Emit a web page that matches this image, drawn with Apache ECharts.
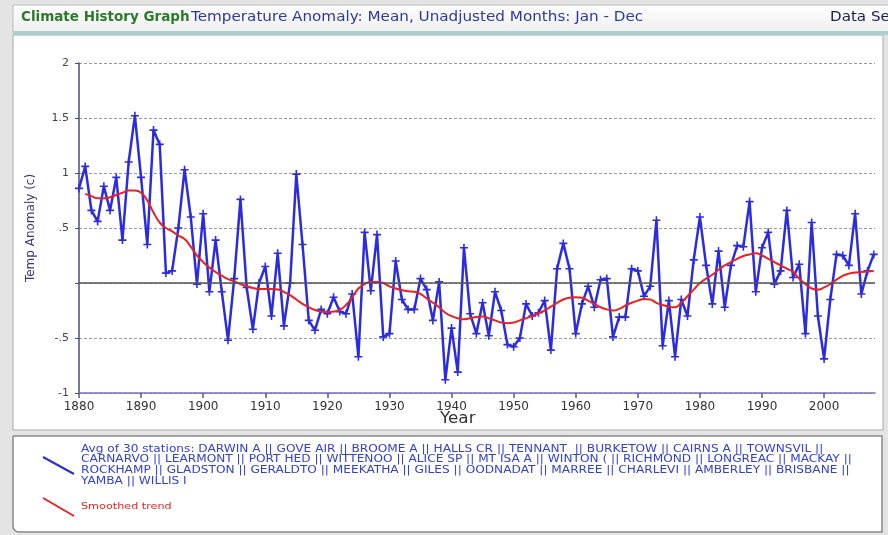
<!DOCTYPE html>
<html>
<head>
<meta charset="utf-8">
<script src="https://cdn.jsdelivr.net/npm/echarts@6/dist/echarts.min.js"></script>
<style>
html,body{margin:0;padding:0;background:#e4e4e4;}
#chart{width:888px;height:535px;}
</style>
</head>
<body>
<div id="chart"></div>
<script>
// ---- data ----
const years = [];
for (let y = 1880; y <= 2008; y++) years.push(y);

const anomaly = [
  0.86, 1.06, 0.66, 0.56, 0.88, 0.66, 0.96, 0.39, 1.10, 1.52,   // 1880-1889
  0.96, 0.35, 1.39, 1.26, 0.09, 0.11, 0.50, 1.03, 0.60, -0.01,  // 1890-1899
  0.63, -0.08, 0.39, -0.08, -0.52, 0.04, 0.76, -0.04, -0.42, 0.00, // 1900-1909
  0.15, -0.30, 0.27, -0.39, 0.00, 0.99, 0.35, -0.34, -0.43, -0.24, // 1910-1919
  -0.28, -0.13, -0.26, -0.28, -0.10, -0.67, 0.46, -0.07, 0.44, -0.49, // 1920-1929
  -0.46, 0.20, -0.15, -0.24, -0.24, 0.04, -0.06, -0.34, 0.01, -0.88, // 1930-1939
  -0.41, -0.81, 0.32, -0.28, -0.46, -0.18, -0.48, -0.08, -0.25, -0.56, // 1940-1949
  -0.58, -0.50, -0.19, -0.30, -0.27, -0.16, -0.61, 0.13, 0.36, 0.13, // 1950-1959
  -0.46, -0.19, -0.03, -0.22, 0.03, 0.04, -0.49, -0.31, -0.31, 0.13, // 1960-1969
  0.11, -0.12, -0.03, 0.57, -0.57, -0.16, -0.67, -0.15, -0.30, 0.21, // 1970-1979
  0.60, 0.16, -0.19, 0.29, -0.22, 0.16, 0.34, 0.33, 0.74, -0.08,   // 1980-1989
  0.32, 0.46, -0.01, 0.11, 0.66, 0.05, 0.17, -0.46, 0.55, -0.30,   // 1990-1999
  -0.69, -0.15, 0.26, 0.25, 0.16, 0.63, -0.10, 0.11, 0.26          // 2000-2008
];

const trendYears = [];
for (let y = 1881; y <= 2008; y++) trendYears.push(y);
const trend = [
  0.81, 0.79, 0.77, 0.77, 0.78, 0.80, 0.82, 0.84, 0.84,           // 1881-1889
  0.82, 0.75, 0.64, 0.55, 0.50, 0.47, 0.43, 0.40, 0.33, 0.25,     // 1890-1899
  0.19, 0.14, 0.10, 0.066, 0.035, 0.015, -0.01, -0.03, -0.045, -0.055, // 1900-1909
  -0.055, -0.055, -0.06, -0.08, -0.11, -0.15, -0.19, -0.22, -0.245, -0.26, // 1910-1919
  -0.265, -0.26, -0.245, -0.20, -0.13, -0.05, -0.01, 0.01, 0.01, 0.00, // 1920-1929
  -0.03, -0.05, -0.065, -0.075, -0.08, -0.10, -0.14, -0.18, -0.22, -0.27, // 1930-1939
  -0.30, -0.32, -0.33, -0.32, -0.31, -0.305, -0.32, -0.34, -0.36, -0.365, // 1940-1949
  -0.36, -0.34, -0.32, -0.30, -0.275, -0.25, -0.215, -0.18, -0.15, -0.135, // 1950-1959
  -0.13, -0.135, -0.16, -0.19, -0.22, -0.24, -0.25, -0.235, -0.205, -0.18, // 1960-1969
  -0.16, -0.145, -0.15, -0.18, -0.20, -0.215, -0.22, -0.18, -0.12, -0.06, // 1970-1979
  0.00, 0.04, 0.075, 0.12, 0.16, 0.19, 0.22, 0.245, 0.26, 0.27,   // 1980-1989
  0.25, 0.22, 0.19, 0.16, 0.13, 0.10, 0.04, -0.01, -0.05, -0.06,  // 1990-1999
  -0.04, -0.01, 0.03, 0.065, 0.085, 0.095, 0.10, 0.105, 0.11      // 2000-2008
];

const xTicks = [1880, 1890, 1900, 1910, 1920, 1930, 1940, 1950, 1960, 1970, 1980, 1990, 2000];

const legendLines = [
  'Avg of 30 stations: DARWIN A || GOVE AIR || BROOME A || HALLS CR || TENNANT  || BURKETOW || CAIRNS A || TOWNSVIL ||',
  'CARNARVO || LEARMONT || PORT HED || WITTENOO || ALICE SP || MT ISA A || WINTON ( || RICHMOND || LONGREAC || MACKAY ||',
  'ROCKHAMP || GLADSTON || GERALDTO || MEEKATHA || GILES || OODNADAT || MARREE || CHARLEVI || AMBERLEY || BRISBANE ||',
  'YAMBA || WILLIS I'
];

// ---- chart ----
const FONT = 'DejaVu Sans, Verdana, sans-serif';
const BLUE = '#2b2be0';
const RED = '#e8221e';

const chart = echarts.init(document.getElementById('chart'), null, {renderer: 'canvas'});

function txt(x, y, text, fill, font, sx) {
  return {type: 'text', x: x, y: y, scaleX: sx || 1,
    style: {text: text, fill: fill, font: font, textVerticalAlign: 'top', verticalAlign: 'top'}};
}

const graphics = [
  // header bar
  {type: 'rect', z: -10, shape: {x: 13, y: 5, width: 880, height: 27},
   style: {fill: new echarts.graphic.LinearGradient(0, 0, 0, 1, [{offset: 0, color: '#ffffff'}, {offset: 1, color: '#eeeeee'}]), stroke: '#bbbbbb', lineWidth: 1}},
  {type: 'rect', z: -9, shape: {x: 13, y: 31, width: 880, height: 4}, style: {fill: '#a9cfd0'}},
  // chart panel
  {type: 'rect', z: -10, shape: {x: 13, y: 35, width: 870, height: 395}, style: {fill: '#ffffff', stroke: '#aaaaaa', lineWidth: 1}},
  // legend panel
  {type: 'rect', z: -10, shape: {x: 13, y: 436, width: 869, height: 96, r: [0, 0, 0, 6]}, style: {fill: '#ffffff', stroke: '#888888', lineWidth: 1.5}},
  // header texts
  txt(21, 10, 'Climate History Graph', '#2c7a2c', 'bold 13.5px ' + FONT, 1),
  txt(191, 10, 'Temperature Anomaly: Mean, Unadjusted Months: Jan - Dec', '#2b3aa0', '14px ' + FONT, 1.085),
  txt(830, 10, 'Data Se', '#1c1c50', '14px ' + FONT, 1.08),
  // x axis title
  txt(440, 411, 'Year', '#333333', '16px ' + FONT, 1.05),
  // legend icons
  {type: 'line', shape: {x1: 43, y1: 457, x2: 74, y2: 474}, style: {stroke: BLUE, lineWidth: 2}},
  {type: 'line', shape: {x1: 43, y1: 498, x2: 74, y2: 516}, style: {stroke: RED, lineWidth: 2}},
  txt(81, 502, 'Smoothed trend', RED, '9.5px ' + FONT, 1.18)
];
legendLines.forEach((t, i) => {
  graphics.push(txt(81, 444 + i * 10.7, t, '#3340cc', '10px ' + FONT, 1.215));
});

chart.setOption({
  animation: false,
  backgroundColor: 'transparent',
  graphic: graphics,
  grid: {left: 79, right: 13, top: 63, bottom: 142, containLabel: false},
  xAxis: {
    type: 'value', min: 1880, max: 2008.2,
    axisLine: {show: true, onZero: false, lineStyle: {color: '#7272c0', width: 1.5}},
    axisTick: {show: true, length: 5, customValues: xTicks, lineStyle: {color: '#55558a', width: 1.5}},
    axisLabel: {customValues: xTicks, color: '#333', fontSize: 12, margin: 8, fontFamily: FONT,
      formatter: v => String(Math.round(v))},
    splitLine: {show: false}
  },
  yAxis: {
    type: 'value', min: -1, max: 2, interval: 0.5,
    axisLine: {show: true, lineStyle: {color: '#4a4a80', width: 1.5}},
    axisTick: {show: true, length: 4, lineStyle: {color: '#4a4a80'}},
    axisLabel: {
      color: '#444', fontSize: 11, margin: 10, fontFamily: FONT,
      formatter: v => v === 0 ? '' : String(v).replace(/^(-?)0\./, '$1.')
    },
    splitLine: {show: true, lineStyle: {color: '#9a9a9a', type: [3, 2], width: 1}},
    name: 'Temp Anomaly (c)', nameLocation: 'middle', nameGap: 42,
    nameTextStyle: {color: '#3a3a78', fontSize: 12, fontFamily: FONT}
  },
  series: [
    {
      name: 'zero', type: 'line', data: [], silent: true,
      markLine: {silent: true, symbol: ['none', 'none'], label: {show: false},
        lineStyle: {color: '#555555', type: 'solid', width: 1.6}, data: [{yAxis: 0}]}
    },
    {
      name: 'Avg of 30 stations', type: 'line',
      data: years.map((y, i) => [y, anomaly[i]]),
      lineStyle: {color: BLUE, width: 2.5},
      itemStyle: {color: BLUE},
      symbol: 'path://M4,0h2v4h4v2h-4v4h-2v-4h-4v-2h4z', symbolSize: 8,
      showAllSymbol: true, z: 3
    },
    {
      name: 'Smoothed trend', type: 'line',
      data: trendYears.map((y, i) => [y, trend[i]]),
      smooth: true, showSymbol: false,
      lineStyle: {color: RED, width: 2}, itemStyle: {color: RED}, z: 4
    }
  ]
});
</script>
</body>
</html>
